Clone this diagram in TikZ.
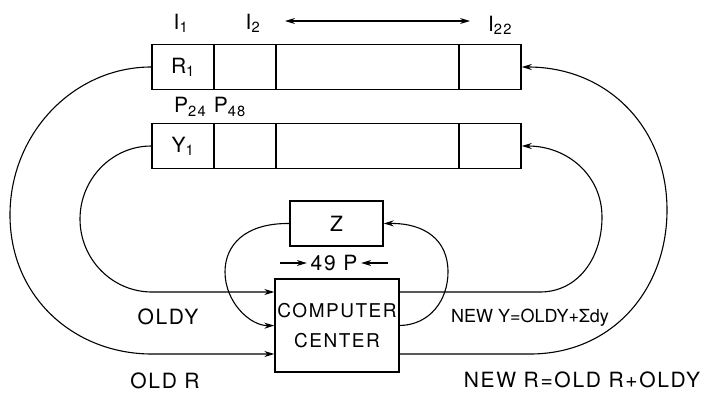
\documentclass[tikz,border=0pt]{standalone}
\usepackage{fontspec}
\setmainfont{TeX Gyre Heros}
\newfontfamily\lettering[LetterSpace=8]{TeX Gyre Heros}
\usepackage{tikz}
\usetikzlibrary{positioning, arrows.meta}

\begin{document}
\begin{tikzpicture}[x=1pt, y=-1pt, line width=1.1pt, >={Stealth[length=10pt,width=6pt]},
    every node/.style={font=\lettering\fontsize{21}{24}\selectfont},
    cell/.style={draw, line width=1.6pt, minimum height=45pt, inner sep=0pt},
    box/.style={draw, line width=1.4pt, inner sep=0pt, align=center}]
        \useasboundingbox (0,0) rectangle (712,392);
        % storage rows
        \foreach \row/\yy/\lab in {r/67/R, y/146/Y} {
          \node[cell, minimum width=62pt] (\row1) at (183,\yy) {\lab\textsubscript{1}};
          \node[cell, minimum width=62pt] (\row2) at (245,\yy) {};
          \node[cell, minimum width=183pt] (\row3) at (367.5,\yy) {};
          \node[cell, minimum width=62pt] (\row4) at (490,\yy) {};
        }
        \node (i1) at (181,23) {I\textsubscript{1}};
        \node (i2) at (253,23) {I\textsubscript{2}};
        \node (i22) at (500,25) {I\textsubscript{22}};
        \coordinate (ileft) at (285,21); \coordinate (iright) at (470,21);
        \draw[<->] (ileft) -- (iright);
        \node (p) at (210,107) {P\textsubscript{24} P\textsubscript{48}};
        % computer and Z
        \node[box, minimum width=93pt, minimum height=45pt] (z) at (336.5,223.5) {Z};
        \node[box, minimum width=124pt, minimum height=93pt,
              font=\lettering\fontsize{19}{30}\selectfont] (cc) at (337,325.5) {COMPUTER\\CENTER};
        \node (p49) at (334,263) {49 P};
        \coordinate (pl) at (280,263); \coordinate (pr) at (388,263);
        \draw[->] (pl) -- (p49.west);
        \draw[->] (pr) -- (p49.east);
        % old values in
        \draw[->] (r1.west) .. controls (74,67) and (10,133) .. (10,215)
              .. controls (10,297) and (74,354) .. (152,354) -- ([yshift=-28.5pt]cc.west);
        \draw[->] (y1.west) .. controls (112,146) and (80,179) .. (80,219)
              .. controls (80,259) and (112,292) .. (152,292) -- ([yshift=33.5pt]cc.west);
        \draw[->] (z.west) .. controls (245,223) and (225,245) .. (225,272)
              .. controls (225,302) and (250,326) .. (cc.west);
        % new values out
        \draw[->] (cc.east) .. controls (430,325) and (448,300) .. (448,272)
              .. controls (448,240) and (425,223) .. (z.east);
        \draw[->] ([yshift=33.5pt]cc.east) -- (540,292) .. controls (578,292) and (602,258) .. (602,217)
              .. controls (602,176) and (568,146) .. (y4.east);
        \draw[->] ([yshift=-28.5pt]cc.east) -- (530,354) .. controls (612,354) and (667,290) .. (667,210)
              .. controls (667,128) and (608,67) .. (r4.east);
        \node (oldy) at (168,317) {OLDY};
        \node (oldr) at (165,381) {OLD R};
        \node[font=\fontsize{18}{20}\selectfont] (newy) at (530,318) {NEW Y=OLDY+Σdy};
        \node (newr) at (582,380) {NEW R=OLD R+OLDY};
      \end{tikzpicture}
\end{document}
